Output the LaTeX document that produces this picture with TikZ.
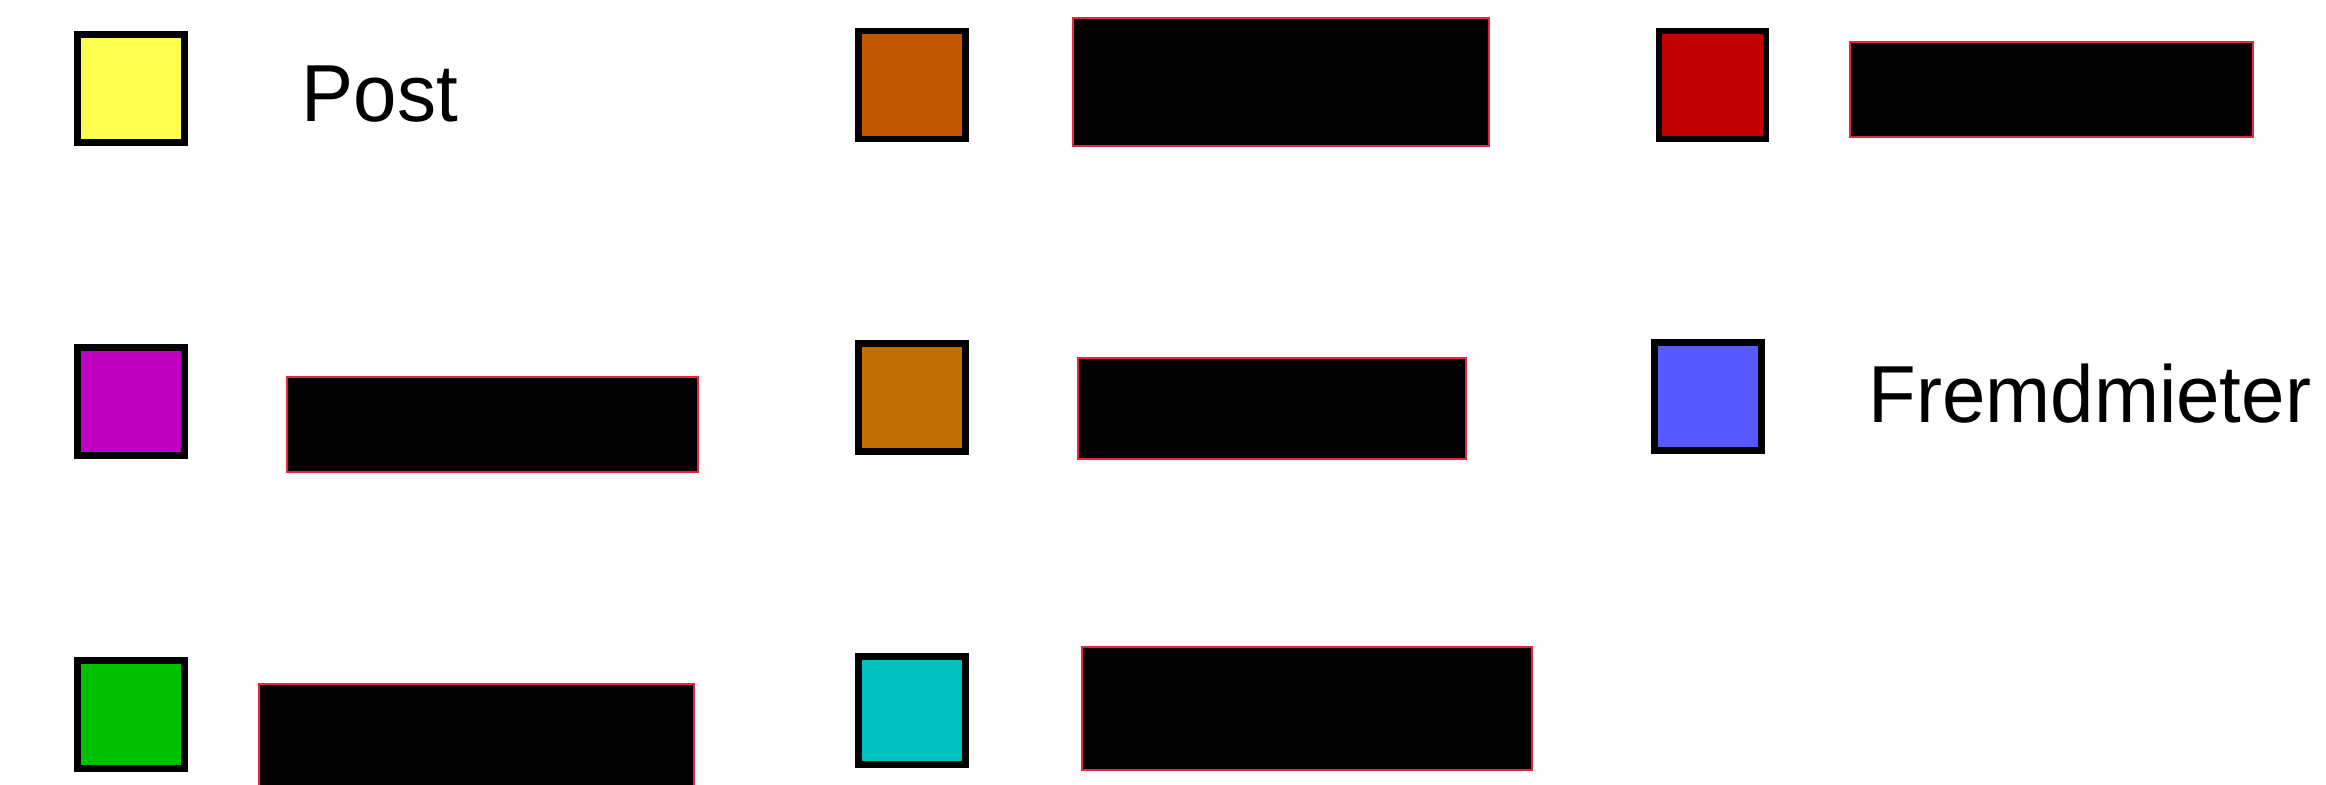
\documentclass[tikz,border=0pt]{standalone}
\usepackage{fontspec}
\setmainfont{Liberation Sans}[FakeStretch=0.965]
\usepackage{xcolor}
\definecolor{swyellow}{RGB}{255,255,80}
\definecolor{sworange}{RGB}{192,88,0}
\definecolor{swred}{RGB}{192,0,0}
\definecolor{swmagenta}{RGB}{192,0,192}
\definecolor{swochre}{RGB}{192,112,0}
\definecolor{swblue}{RGB}{88,88,255}
\definecolor{swgreen}{RGB}{0,192,0}
\definecolor{swcyan}{RGB}{0,192,192}
\definecolor{hideline}{RGB}{232,36,64}
\tikzset{
  swatch/.style={draw=black,line width=1.9pt,inner sep=0pt,
    minimum width=1.07cm,minimum height=1.08cm},
  hidden/.style={fill=black,draw=hideline,line width=0.6pt,inner sep=0pt},
}

\begin{document}
\begin{tikzpicture}[
  x=0.01cm,y=-0.01cm,
  every node/.style={font=\fontsize{23pt}{27pt}\selectfont},
  legend/.style={anchor=base west,inner sep=0pt}
]
\useasboundingbox (0,0) rectangle (2326,784);
\clip (0,0) rectangle (2326,784);

% first column
\node[swatch,fill=swyellow] (yel) at (131,88.5) {};
\node[legend] (post) at (301,121) {Post};
\node[swatch,fill=swmagenta] (mag) at (131,401.5) {};
\node[hidden,minimum width=4.11cm,minimum height=0.95cm] (hmag) at (492.5,424.5) {};
\node[swatch,fill=swgreen] (grn) at (131,714.5) {};
\node[hidden,minimum width=4.35cm,minimum height=1.15cm] (hgrn) at (476.5,741.5) {};

% second column
\node[swatch,fill=sworange] (ora) at (912,85) {};
\node[hidden,minimum width=4.16cm,minimum height=1.28cm] (hora) at (1281,82) {};
\node[swatch,fill=swochre] (och) at (912,397.5) {};
\node[hidden,minimum width=3.88cm,minimum height=1.01cm] (hoch) at (1272,408.5) {};
\node[swatch,fill=swcyan] (cya) at (912,710.5) {};
\node[hidden,minimum width=4.50cm,minimum height=1.23cm] (hcya) at (1307,708.5) {};

% third column
\node[swatch,fill=swred] (red) at (1712.5,85) {};
\node[hidden,minimum width=4.03cm,minimum height=0.95cm] (hred) at (2051.5,89.5) {};
\node[swatch,fill=swblue] (blu) at (1708,396.5) {};
\node[legend] (fremd) at (1868,422) {Fremdmieter};

\end{tikzpicture}
\end{document}
